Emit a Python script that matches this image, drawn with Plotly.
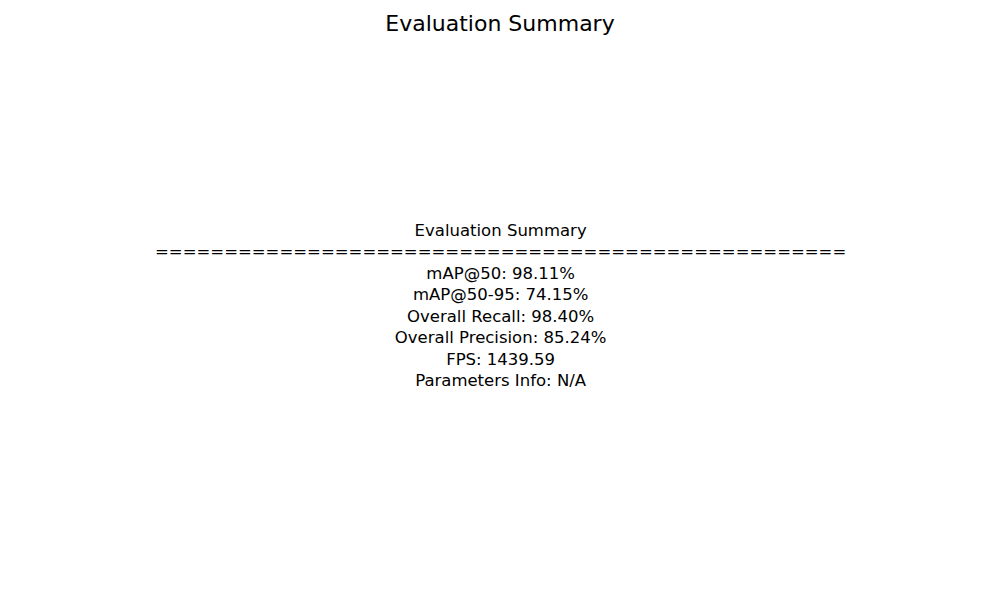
import plotly.graph_objects as go

title = "Evaluation Summary"
labels = ["mAP@50", "mAP@50-95", "Overall Recall", "Overall Precision", "FPS", "Parameters Info"]
values = ["98.11%", "74.15%", "98.40%", "85.24%", "1439.59", "N/A"]

lines = [title, "=" * 50] + [f"{k}: {v}" for k, v in zip(labels, values)]

fig = go.Figure()
fig.add_annotation(
    text="<br>".join(lines),
    x=0.5, y=0.5, xref="paper", yref="paper", xshift=-8, yshift=3,
    showarrow=False, align="center",
    font=dict(family="DejaVu Sans", size=16.5, color="black"),
)
fig.update_layout(
    width=1000, height=600,
    title=dict(text=title, x=0.492, y=0.988, xanchor="center", yanchor="top",
               font=dict(family="DejaVu Sans", size=22, color="black")),
    paper_bgcolor="white", plot_bgcolor="white",
    margin=dict(l=0, r=0, t=0, b=0),
    xaxis=dict(visible=False), yaxis=dict(visible=False),
)
fig.write_html("out.html")
